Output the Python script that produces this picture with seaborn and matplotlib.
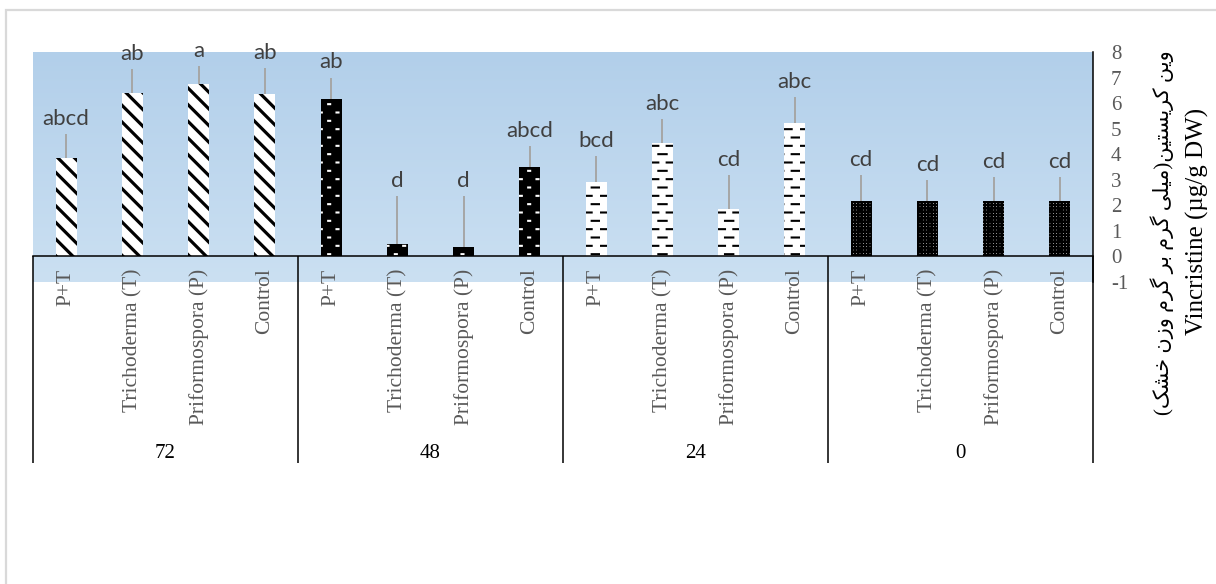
import numpy as np
import pandas as pd
import matplotlib
matplotlib.use("Agg")
import matplotlib.pyplot as plt
import matplotlib.hatch as mhatch
from matplotlib.colors import LinearSegmentedColormap
from matplotlib.patches import Rectangle
from matplotlib.path import Path as MPath
import seaborn as sns

# ---------------- data ----------------
groups = ["72", "48", "24", "0"]
treatments = ["P+T", "Trichoderma (T)", "Priformospora (P)", "Control"]

vincristine_72 = [3.83, 6.40, 6.76, 6.37]
vincristine_48 = [6.16, 0.47, 0.35, 3.48]
vincristine_24 = [2.90, 4.43, 1.84, 5.23]
vincristine_0 = [2.14, 2.14, 2.14, 2.14]

error_72 = [0.94, 0.92, 0.69, 1.00]
error_48 = [0.84, 1.88, 2.00, 0.83]
error_24 = [1.02, 0.93, 1.35, 1.02]
error_0 = [1.04, 0.84, 0.94, 0.94]

letters_72 = ["abcd", "ab", "a", "ab"]
letters_48 = ["ab", "d", "d", "abcd"]
letters_24 = ["bcd", "abc", "cd", "abc"]
letters_0 = ["cd", "cd", "cd", "cd"]

y_ticks = [-1, 0, 1, 2, 3, 4, 5, 6, 7, 8]
ylabel_fa = ("\u0648\u06CC\u0646 \u06A9\u0631\u06CC\u0633\u062A\u06CC\u0646(\u0645\u06CC\u0644\u06CC "
             "\u06AF\u0631\u0645 \u0628\u0631 \u06AF\u0631\u0645 \u0648\u0632\u0646 \u062E\u0634\u06A9)")
ylabel_en = "Vincristine (\u00b5g/g DW)"

values = [vincristine_72, vincristine_48, vincristine_24, vincristine_0]
errors = [error_72, error_48, error_24, error_0]
letters = [letters_72, letters_48, letters_24, letters_0]

df = pd.DataFrame({
    "group": np.repeat(groups, len(treatments)),
    "treatment": treatments * len(groups),
    "value": np.concatenate(values),
    "err": np.concatenate(errors),
    "letter": sum(letters, []),
})
df["key"] = df["group"] + "|" + df["treatment"]


# ---------------- custom brick-like hatches (dashes / dots) ----------------
def brick_hatch(char, frac):
    class BrickHatch(mhatch.HatchPatternBase):
        def __init__(self, hatch, density):
            self.n = int(hatch.count(char) * density)
            self.num_vertices = 4 * self.n * self.n

        def set_vertices_and_codes(self, vertices, codes):
            n = self.n
            rows = 2 * n
            k = 0
            for r in range(rows):
                y = (r + 0.5) / rows
                off = 0.5 / n if r % 2 else 0.0
                for j in range(n):
                    x0 = j / n + off + (0.5 - frac) / (2 * n)
                    x1 = x0 + frac / n
                    vertices[k] = (x0, y)
                    vertices[k + 1] = (x1, y)
                    codes[k] = MPath.MOVETO
                    codes[k + 1] = MPath.LINETO
                    k += 2
    return BrickHatch


_types = []
for t in mhatch._hatch_types:
    if t is mhatch.Stars:
        _types.append(brick_hatch("*", 0.5))
    elif t is mhatch.LargeCircles:
        _types.append(brick_hatch("O", 0.12))
    else:
        _types.append(t)
mhatch._hatch_types = _types


# ---------------- Persian shaping (presentation forms, visual order) ----------------
_FORMS = {
    "\u0648": ("\uFEED", "\uFEEE", None, None),
    "\u06CC": ("\uFBFC", "\uFBFD", "\uFBFE", "\uFBFF"),
    "\u0646": ("\uFEE5", "\uFEE6", "\uFEE7", "\uFEE8"),
    "\u06A9": ("\uFB8E", "\uFB8F", "\uFB90", "\uFB91"),
    "\u0631": ("\uFEAD", "\uFEAE", None, None),
    "\u0633": ("\uFEB1", "\uFEB2", "\uFEB3", "\uFEB4"),
    "\u062A": ("\uFE95", "\uFE96", "\uFE97", "\uFE98"),
    "\u0645": ("\uFEE1", "\uFEE2", "\uFEE3", "\uFEE4"),
    "\u0644": ("\uFEDD", "\uFEDE", "\uFEDF", "\uFEE0"),
    "\u06AF": ("\uFB92", "\uFB93", "\uFB94", "\uFB95"),
    "\u0628": ("\uFE8F", "\uFE90", "\uFE91", "\uFE92"),
    "\u0632": ("\uFEAF", "\uFEB0", None, None),
    "\u062E": ("\uFEA5", "\uFEA6", "\uFEA7", "\uFEA8"),
    "\u0634": ("\uFEB5", "\uFEB6", "\uFEB7", "\uFEB8"),
}


def shape_rtl(s):
    def joins_next(ch):
        return ch in _FORMS and _FORMS[ch][2] is not None
    out = []
    for i, ch in enumerate(s):
        if ch not in _FORMS:
            out.append(ch)
            continue
        iso, fin, ini, med = _FORMS[ch]
        prev = s[i - 1] if i > 0 else ""
        nxt = s[i + 1] if i + 1 < len(s) else ""
        pj = joins_next(prev)
        nj = (nxt in _FORMS) and ini is not None
        if pj and nj:
            out.append(med)
        elif pj:
            out.append(fin)
        elif nj:
            out.append(ini)
        else:
            out.append(iso)
    mirror = {"(": ")", ")": "("}
    return "".join(mirror.get(c, c) for c in reversed(out))


# ---------------- figure ----------------
plt.rcParams["axes.unicode_minus"] = False
SERIF = "Liberation Serif"

fig = plt.figure(figsize=(12.16, 5.84), dpi=100)
W, H = 1216, 584
ax = fig.add_axes([33 / W, 1 - 281.5 / H, (1093 - 33) / W, (281.5 - 52) / H])

sns.barplot(data=df, x="key", y="value", order=list(df["key"]), color="white",
            width=0.32, errorbar=None, saturation=1, linewidth=0, ax=ax)

styles = {
    "72": dict(face="white", edge="black", hatch="\\\\", hlw=2.3),
    "48": dict(face="black", edge="white", hatch="O", hlw=1.5),
    "24": dict(face="white", edge="black", hatch="*", hlw=1.5),
    "0": dict(face="white", edge="black", hatch="+++++", hlw=1.75),
}

bars = list(ax.patches)
xs = []
for bar, g in zip(bars, df["group"]):
    st = styles[g]
    bar.set_facecolor(st["face"])
    bar.set_edgecolor(st["edge"])
    bar.set_linewidth(0)
    bar.set_hatch(st["hatch"])
    if hasattr(bar, "set_hatch_linewidth"):
        bar.set_hatch_linewidth(st["hlw"])
    xs.append(bar.get_x() + bar.get_width() / 2)
plt.rcParams["hatch.linewidth"] = 1.5
xs = np.array(xs)

# one-sided error bars
tops = df["value"].to_numpy()
errs = df["err"].to_numpy()
ax.errorbar(xs, tops, yerr=[np.zeros_like(errs), errs], fmt="none",
            ecolor="#a6a6a6", elinewidth=1.4, capsize=0, zorder=3)

# significance letters
for x, t, e, lab in zip(xs, tops, errs, df["letter"]):
    ax.annotate(lab, (x, t + e), xytext=(0, 6.5), textcoords="offset points",
                ha="center", va="baseline", fontsize=16, color="#404040",
                family="Lato")

# plot-area gradient background
grad = np.linspace(0, 1, 256).reshape(-1, 1)
cmap = LinearSegmentedColormap.from_list("bg", ["#cbe0f2", "#b2cfea"])
ax.imshow(grad, extent=(-0.5, 15.5, -1, 8), origin="lower", aspect="auto",
          cmap=cmap, zorder=0, interpolation="bilinear")

# category separators and group labels
n_t = len(treatments)
bounds = np.arange(len(groups) + 1) * n_t - 0.5
ax.vlines(bounds, -8.1, 0, colors="black", lw=1.1, clip_on=False, zorder=3)
for c, g in zip(bounds[:-1] + n_t / 2, groups):
    ax.text(c, -7.75, g, ha="center", va="center", fontsize=15,
            family=SERIF, color="black")

ax.set_xlim(-0.5, 15.5)
ax.set_ylim(-1, 8)
ax.set_xlabel("")
ax.set_ylabel("")

# x axis at y = 0
ax.spines["bottom"].set_position(("data", 0))
ax.spines["bottom"].set_linewidth(1.1)
ax.spines["bottom"].set_color("black")
ax.spines["right"].set_linewidth(1.1)
ax.spines["right"].set_color("black")
ax.spines["top"].set_visible(False)
ax.spines["left"].set_visible(False)

ax.set_xticks(np.arange(len(df)))
ax.set_xticklabels(df["treatment"], rotation=90, fontsize=15.5,
                   family=SERIF, color="#595959")
ax.tick_params(axis="x", length=0, pad=9)

ax.yaxis.tick_right()
ax.set_yticks(y_ticks)
ax.set_yticklabels([str(v) for v in y_ticks], fontsize=15, family=SERIF,
                   color="#595959")
ax.tick_params(axis="y", length=0, pad=13)

# axis title (right side)
fig.text(1162 / W, 1 - 233 / H, shape_rtl(ylabel_fa), rotation=90,
         ha="center", va="center", fontsize=15,
         family=[SERIF, "DejaVu Sans"], color="black")
fig.text(1197 / W, 1 - 221 / H, ylabel_en, rotation=90, ha="center",
         va="center", fontsize=18, family=SERIF, color="black")

# chart-area border
fig.patches.append(Rectangle((6 / W, -0.1), 1.2, (1 - 10 / H) + 0.1,
                             transform=fig.transFigure, fill=False,
                             edgecolor="#d9d9d9", lw=1.6))

fig.savefig("out.png", dpi=100, facecolor="white")
